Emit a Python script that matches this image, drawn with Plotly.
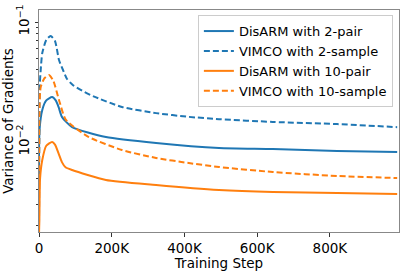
import plotly.graph_objects as go

# Training steps and variance estimates for each series
steps_vimco2 = [0, 2000, 4700, 9000, 20000, 32000, 44000, 55000, 66000, 77000, 93000, 126000, 150000, 228000, 322000, 412000, 495000, 643000, 820000, 985000]
vimco2 = [0.0017, 0.0293, 0.0398, 0.0552, 0.0708, 0.0764, 0.0695, 0.0482, 0.0398, 0.0335, 0.0299, 0.0260, 0.0240, 0.0196, 0.0174, 0.0162, 0.0155, 0.0147, 0.0141, 0.0133]

steps_disarm2 = [0, 1500, 9000, 20000, 36000, 46000, 54000, 63000, 91000, 184000, 322000, 495000, 643000, 820000, 985000]
disarm2 = [0.0017, 0.0126, 0.0185, 0.0222, 0.0237, 0.0222, 0.0195, 0.0162, 0.0133, 0.0110, 0.00981, 0.00891, 0.00874, 0.00841, 0.00825]

steps_vimco10 = [0, 1500, 4700, 15000, 27500, 40000, 55000, 74000, 137000, 228000, 322000, 412000, 495000, 643000, 820000, 985000]
vimco10 = [0.0017, 0.020, 0.0287, 0.034, 0.0362, 0.032, 0.0224, 0.0153, 0.0110, 0.00858, 0.00736, 0.00668, 0.00619, 0.00562, 0.00521, 0.00501]

steps_disarm10 = [0, 1000, 3000, 9000, 20000, 36000, 44000, 54000, 63000, 73000, 91000, 184000, 322000, 495000, 643000, 820000, 985000]
disarm10 = [0.0017, 0.00224, 0.0050, 0.00708, 0.0093, 0.0100, 0.0095, 0.0080, 0.0068, 0.00615, 0.00584, 0.00482, 0.00438, 0.00398, 0.00383, 0.00376, 0.00369]

x_tickvals = [0, 200000, 400000, 600000, 800000]
x_ticktext = ["0", "200K", "400K", "600K", "800K"]
y_tickvals = [0.1, 0.01]
y_ticktext = ["10<sup>\u22121</sup>", "10<sup>\u22122</sup>"]
y_minor = [2e-3, 3e-3, 4e-3, 5e-3, 6e-3, 7e-3, 8e-3, 9e-3,
           2e-2, 3e-2, 4e-2, 5e-2, 6e-2, 7e-2, 8e-2, 9e-2]

BLUE = "#1f77b4"
ORANGE = "#ff7f0e"
FONT = "DejaVu Sans"

fig = go.Figure()
series = [
    ("DisARM with 2-pair", steps_disarm2, disarm2, BLUE, "solid"),
    ("VIMCO with 2-sample", steps_vimco2, vimco2, BLUE, "6px,3px"),
    ("DisARM with 10-pair", steps_disarm10, disarm10, ORANGE, "solid"),
    ("VIMCO with 10-sample", steps_vimco10, vimco10, ORANGE, "6px,3px"),
]
for name, xs, ys, col, dash in series:
    fig.add_trace(go.Scatter(
        x=xs, y=ys, name=name, mode="lines",
        line=dict(color=col, width=2, dash=dash, shape="spline", smoothing=0.6),
    ))

axis_common = dict(
    showline=True, linecolor="#888888", linewidth=1, mirror=True,
    showgrid=False, zeroline=False, automargin=False,
    ticks="outside", ticklen=3.5, tickwidth=1, tickcolor="#333333",
    tickfont=dict(family=FONT, size=13.5, color="black"),
)

fig.update_layout(
    width=407, height=271,
    margin=dict(l=39, r=8, t=10, b=39),
    paper_bgcolor="white", plot_bgcolor="white",
    font=dict(family=FONT, size=13.5, color="black"),
    showlegend=True,
    legend=dict(
        x=0.983, y=0.977, xanchor="right", yanchor="top",
        bgcolor="rgba(255,255,255,0.8)", bordercolor="#cccccc", borderwidth=1,
        font=dict(family=FONT, size=13, color="black"),
        tracegroupgap=0, itemwidth=30,
    ),
)
fig.update_xaxes(
    range=[0, 990000], tickvals=x_tickvals, ticktext=x_ticktext,
    title=dict(text="Training Step", font=dict(family=FONT, size=13.5), standoff=0),
    **axis_common,
)
fig.update_yaxes(
    type="log", range=[-2.75, -0.9], tickvals=y_tickvals, ticktext=y_ticktext,
    tickangle=-90,
    minor=dict(tickmode="array", tickvals=y_minor, ticks="outside", ticklen=2,
               tickwidth=1, tickcolor="#333333", showgrid=False),
    title=dict(text="Variance of Gradients", font=dict(family=FONT, size=13.5), standoff=0),
    **axis_common,
)

fig.write_html("out.html", config={"displayModeBar": False},
               post_script="document.body.style.margin='0';")
